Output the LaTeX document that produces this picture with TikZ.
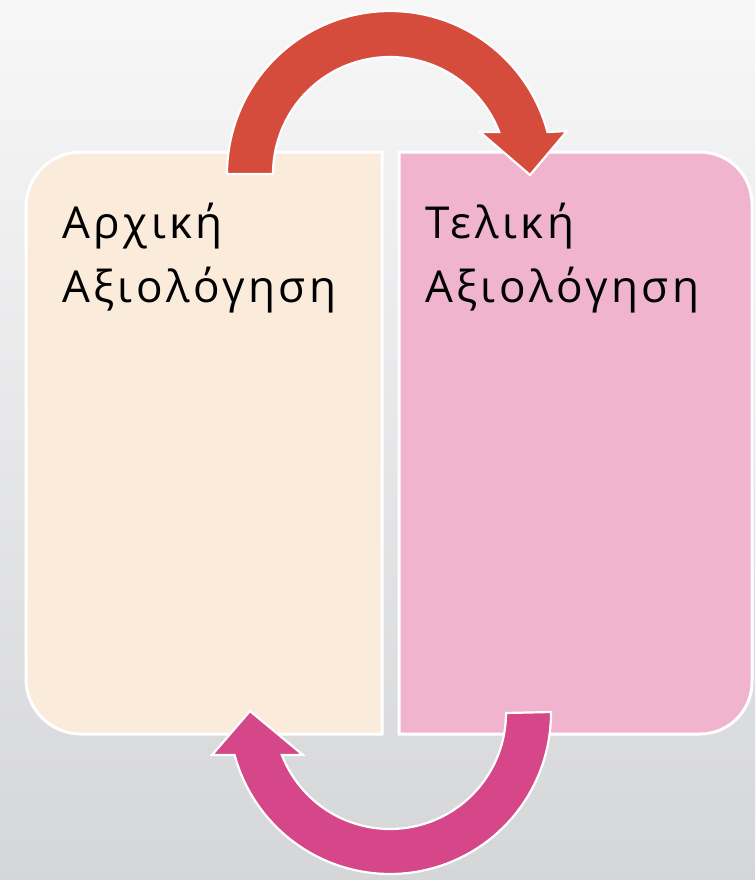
\documentclass[tikz,border=0pt]{standalone}
\usepackage{fontspec}
\setmainfont{Open Sans}
\newfontfamily\labelfont[LetterSpace=8]{Open Sans}
\definecolor{bgtop}{RGB}{247,247,248}
\definecolor{bgmid}{RGB}{240,240,241}
\definecolor{bgbot}{RGB}{213,214,216}
\definecolor{panelbeige}{RGB}{250,235,218}
\definecolor{panelpink}{RGB}{240,180,206}
\definecolor{arrowred}{RGB}{214,76,60}
\definecolor{arrowmag}{RGB}{213,71,136}
\tikzset{
  panel/.style={draw=white, line width=3pt},
  bigarrow/.style={draw=white, line width=2.2pt, line join=miter},
  label/.style={anchor=base west, inner sep=0pt, text=black,
    font=\labelfont\fontsize{44}{64}\selectfont},
}
\begin{document}
\begin{tikzpicture}[x=1pt, y=-1pt]
  % backdrop
  \shade[top color=bgtop, middle color=bgmid, bottom color=bgbot]
    (0,0) rectangle (755,880);
  \useasboundingbox (0,0) rectangle (755,880);

  % left panel: rounded on its outer (left) corners
  \path[panel, fill=panelbeige]
    (382,152) [rounded corners=55pt] -- (26,152) -- (26,734)
    [sharp corners] -- (382,734) -- cycle;
  % right panel: rounded on its outer (right) corners
  \path[panel, fill=panelpink]
    (399,152) [rounded corners=52pt] -- (752,152) -- (752,734)
    [sharp corners] -- (399,734) -- cycle;

  % labels
  \node[label] (initial) at (62,238)
    {\vtop{\hbox{Αρχική}\hbox{Αξιολόγηση}}};
  \node[label] (final) at (425,238)
    {\vtop{\hbox{Τελική}\hbox{Αξιολόγηση}}};

  % upper curved arrow, left panel -> right panel
  \path[bigarrow, fill=arrowred]
    (227,174)
    -- plot[domain=180:14.9, samples=70] ({390+163*cos(\x)},{174-163*sin(\x)})
    -- (567,131) -- (530,175) -- (480,132)
    -- plot[domain=21:180, samples=70] ({390+117*cos(\x)},{174-117*sin(\x)})
    -- cycle;

  % lower curved arrow, right panel -> left panel
  \path[bigarrow, fill=arrowmag]
    (551,712)
    -- plot[domain=0:-164.9, samples=70] ({390+161*cos(\x)},{713-161*sin(\x)})
    -- (212,755) -- (250,711) -- (303,755)
    -- plot[domain=-158.8:0, samples=70] ({390+116*cos(\x)},{713-116*sin(\x)})
    -- cycle;
\end{tikzpicture}
\end{document}
